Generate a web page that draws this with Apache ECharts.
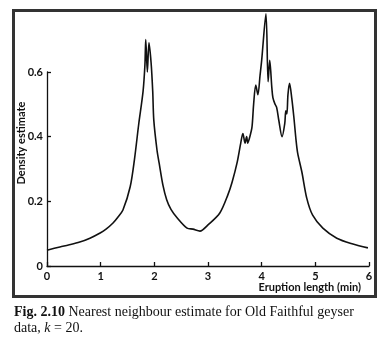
<!DOCTYPE html>
<html><head><meta charset="utf-8">
<script src="https://cdn.jsdelivr.net/npm/echarts@6/dist/echarts.min.js"></script>
<style>html,body{margin:0;padding:0;background:#fff}#c{width:392px;height:342px}</style>
</head><body><div id="c"></div>
<script>
const eruptionLength = [0,0.24,0.4,0.61,0.8,0.99,1.1,1.23,1.32,1.415,1.55,1.63,1.71,1.79,1.825,1.84,1.87,1.90,1.94,1.97,1.99,2.05,2.09,2.16,2.23,2.31,2.42,2.61,2.72,2.85,3.0,3.22,3.37,3.45,3.54,3.61,3.65,3.69,3.72,3.74,3.78,3.82,3.85,3.89,3.93,3.97,4.00,4.08,4.12,4.15,4.19,4.21,4.25,4.28,4.32,4.38,4.43,4.45,4.47,4.49,4.52,4.56,4.60,4.64,4.67,4.75,4.84,4.95,5.14,5.40,5.70,5.98];
const densityEstimate = [0.049,0.059,0.065,0.074,0.086,0.102,0.114,0.133,0.151,0.173,0.245,0.33,0.44,0.54,0.623,0.70,0.60,0.69,0.628,0.54,0.451,0.358,0.318,0.25,0.205,0.175,0.15,0.117,0.114,0.108,0.127,0.164,0.22,0.26,0.318,0.38,0.41,0.38,0.40,0.38,0.40,0.43,0.50,0.56,0.53,0.59,0.636,0.78,0.57,0.636,0.55,0.52,0.50,0.49,0.45,0.40,0.44,0.48,0.47,0.53,0.565,0.52,0.46,0.39,0.35,0.29,0.21,0.157,0.117,0.086,0.068,0.056];
const yTicks = ['0','0.2','0.4','0.6'];
const xTicks = ['0','1','2','3','4','5','6'];
const xTitle = 'Eruption length (min)';
const yTitle = 'Density estimate';

const chart = echarts.init(document.getElementById('c'));
const pts = eruptionLength.map((x,i)=>[x,densityEstimate[i]]);
const lblFont = {fontFamily:'Lato',fontWeight:'bold',fontSize:11,color:'#111'};
chart.setOption({
  backgroundColor:'#fff',
  animation:false,
  grid:{left:47,right:23,top:72,bottom:76},
  xAxis:{type:'value',min:0,max:6,interval:1,
    axisLine:{lineStyle:{color:'#111',width:1.3}},
    axisTick:{inside:true,length:4,lineStyle:{color:'#111',width:1.3}},
    axisLabel:Object.assign({margin:5,formatter:v=>xTicks[Math.round(v)]},lblFont),
    splitLine:{show:false}},
  yAxis:{type:'value',min:0,max:0.6,interval:0.2,
    axisLine:{show:true,lineStyle:{color:'#111',width:1.3}},
    axisTick:{show:true,inside:true,length:4,lineStyle:{color:'#111',width:1.3}},
    axisLabel:Object.assign({margin:4,formatter:v=>yTicks[Math.round(v/0.2)]},lblFont),
    splitLine:{show:false}},
  series:[{type:'line',data:pts,showSymbol:false,clip:false,smooth:0.3,
    lineStyle:{color:'#111',width:1.6}}],
  graphic:[
    {type:'rect',shape:{x:13.5,y:10.5,width:362,height:286},style:{fill:'none',stroke:'#333',lineWidth:3}},
    {type:'text',x:361,y:282,style:{text:xTitle,textAlign:'right',textVerticalAlign:'top',fill:'#111',font:'bold 11px Lato'}},
    {type:'text',x:21,y:143,rotation:Math.PI/2,style:{text:yTitle,textAlign:'center',textVerticalAlign:'middle',fill:'#111',font:'bold 11px Lato'}},
    {type:'text',x:14,y:304,style:{text:'{b|Fig. 2.10} Nearest neighbour estimate for Old Faithful geyser\ndata, {i|k} = 20.',
      font:'14px "Liberation Serif"',fill:'#111',lineHeight:16,
      rich:{b:{fontWeight:'bold',fontFamily:'Liberation Serif',fontSize:14,fill:'#111',lineHeight:16},i:{fontStyle:'italic',fontFamily:'Liberation Serif',fontSize:14,fill:'#111',lineHeight:16}}}}
  ]
});
</script></body></html>
